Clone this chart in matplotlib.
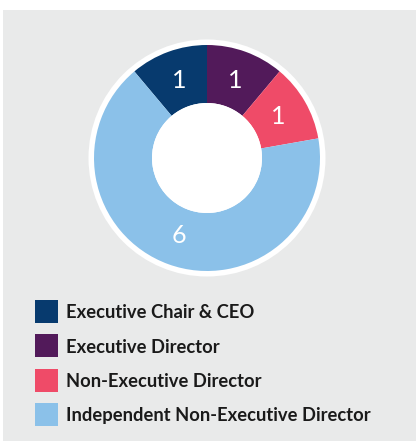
import matplotlib.pyplot as plt
from matplotlib.patches import Rectangle, Circle

# data
categories = ['Executive Chair & CEO', 'Executive Director',
              'Non-Executive Director', 'Independent Non-Executive Director']
counts = [1, 1, 1, 6]
colors = ['#073a6e', '#521a5a', '#ef4b68', '#8bc1e9']

W, H = 416, 441
fig = plt.figure(figsize=(W / 100, H / 100), dpi=100, facecolor='white')
ax = fig.add_axes([0, 0, 1, 1])

# grey panel
ax.add_patch(Rectangle((3, 0), W - 3, H - 10, facecolor='#e9eaea', edgecolor='none', zorder=0))

cx, cy = 207, H - 158
ax.add_patch(Circle((cx, cy), 118.5, facecolor='white', edgecolor='none', zorder=1))

total = sum(counts)
wedges, texts, autotexts = ax.pie(
    counts, colors=colors, startangle=130, counterclock=False,
    center=(cx, cy), radius=113, frame=True,
    wedgeprops=dict(width=58, edgecolor='none'),
    autopct=lambda p: f'{round(p * total / 100)}', pctdistance=0.73,
    textprops=dict(color='white', fontsize=18, family='Lato', weight='normal'))
for w in wedges:
    w.set_zorder(2)
for t in autotexts:
    t.set_zorder(3)
    t.set_color('white')
ax.add_patch(Circle((cx, cy), 55, facecolor='white', edgecolor='none', zorder=2))
ax.set_xlim(0, W)
ax.set_ylim(0, H)
ax.set_aspect('equal')
ax.axis('off')

# legend, drawn by hand
row0, step = 311.5, 34.3
for i, (c, lab) in enumerate(zip(colors, categories)):
    yc = H - (row0 + i * step)
    ax.add_patch(Rectangle((35, yc - 11.5), 23, 23, facecolor=c, edgecolor='none', zorder=2))
    ax.text(66, yc, lab, ha='left', va='center_baseline', fontsize=13.2,
            family='Lato', weight='bold', color='#1a1a1a', zorder=3)

fig.savefig('out.png', dpi=100, facecolor='white')
